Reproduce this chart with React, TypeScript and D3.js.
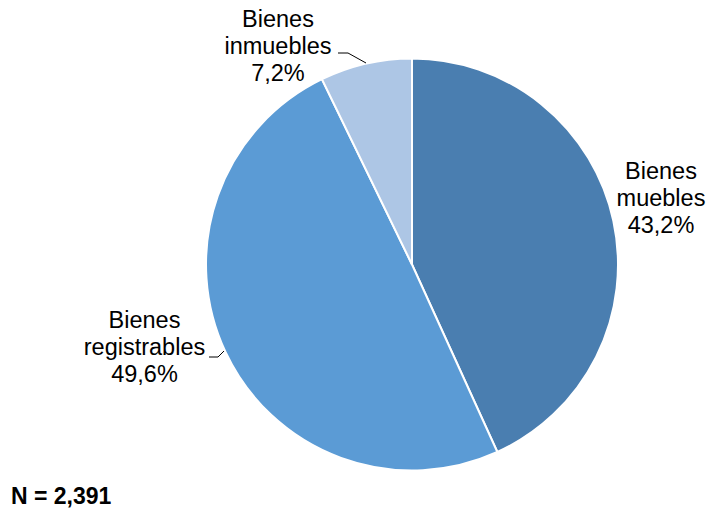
import React from "react";
import * as d3 from "d3";

const categories = ["Bienes muebles", "Bienes registrables", "Bienes inmuebles"];
const values = [43.2, 49.6, 7.2];
const labelLines = [
  ["Bienes", "muebles", "43,2%"],
  ["Bienes", "registrables", "49,6%"],
  ["Bienes", "inmuebles", "7,2%"],
];
const colors = ["#4a7eb0", "#5b9bd5", "#adc6e5"];
const note = "N = 2,391";

const W = 708;
const H = 512;
const cx = 412;
const cy = 264.5;
const R = 206;
const FONT = "'Liberation Sans', Arial, sans-serif";
const FS = 23.5;
const LH = 27;

// label anchor (center x, first baseline y)
const labelPos: [number, number][] = [
  [661, 179],
  [144.5, 328],
  [278, 27],
];

export default function App() {
  const pie = d3
    .pie<number>()
    .sort(null)
    .value((d) => d)
    .startAngle(0)
    .endAngle(2 * Math.PI);
  const arcs = pie(values);
  const arc = d3.arc<d3.PieArcDatum<number>>().innerRadius(0).outerRadius(R);

  return (
    <svg
      width={W}
      height={H}
      style={{ position: "absolute", left: 0, top: 0, background: "#fff" }}
    >
      <g transform={`translate(${cx},${cy})`}>
        {arcs.map((a, i) => (
          <path
            key={categories[i]}
            d={arc(a) || ""}
            fill={colors[i]}
            stroke="#fff"
            strokeWidth={2}
          />
        ))}
      </g>
      {/* leader lines */}
      <polyline
        points="338,53 348,53 366,63"
        fill="none"
        stroke="#000"
        strokeWidth={1}
      />
      <polyline
        points="209,357 218,357 224,351"
        fill="none"
        stroke="#000"
        strokeWidth={1}
      />
      {labelLines.map((lines, i) => (
        <text
          key={categories[i]}
          x={labelPos[i][0]}
          y={labelPos[i][1]}
          textAnchor="middle"
          fontFamily={FONT}
          fontSize={FS}
          fill="#000"
        >
          {lines.map((l, j) => (
            <tspan key={j} x={labelPos[i][0]} y={labelPos[i][1] + j * LH}>
              {l}
            </tspan>
          ))}
        </text>
      ))}
      <text x={11} y={504} fontFamily={FONT} fontSize={23} fontWeight="bold" fill="#000">
        {note}
      </text>
    </svg>
  );
}
